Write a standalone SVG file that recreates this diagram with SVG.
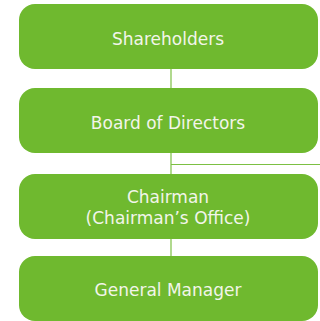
<svg xmlns="http://www.w3.org/2000/svg" width="320" height="321" viewBox="0 0 320 321">
<style>
.box{fill:#6fb92f}
.t{font-family:"DejaVu Sans",sans-serif;font-size:17px;fill:#f2f5ea;text-anchor:middle}
.c{stroke:#7cc043;stroke-width:1.2;fill:none}
</style>
<rect width="320" height="321" fill="#fff"/>
<g id="connectors">
<line class="c" x1="171" y1="69" x2="171" y2="88"/>
<line class="c" x1="171" y1="153" x2="171" y2="174"/>
<line class="c" x1="171" y1="164.5" x2="320" y2="164.5"/>
<line class="c" x1="171" y1="239" x2="171" y2="256"/>
</g>
<g id="shareholders"><rect class="box" x="19" y="4" width="299" height="65" rx="16"/><text class="t" x="168" y="45">Shareholders</text></g>
<g id="board"><rect class="box" x="19" y="88" width="299" height="65" rx="16"/><text class="t" x="168" y="129">Board of Directors</text></g>
<g id="chairman"><rect class="box" x="19" y="174" width="299" height="65" rx="16"/><text class="t" x="168" y="203">Chairman</text><text class="t" x="168" y="224">(Chairman’s Office)</text></g>
<g id="gm"><rect class="box" x="19" y="256" width="299" height="65" rx="16"/><text class="t" x="168" y="296">General Manager</text></g>
</svg>
